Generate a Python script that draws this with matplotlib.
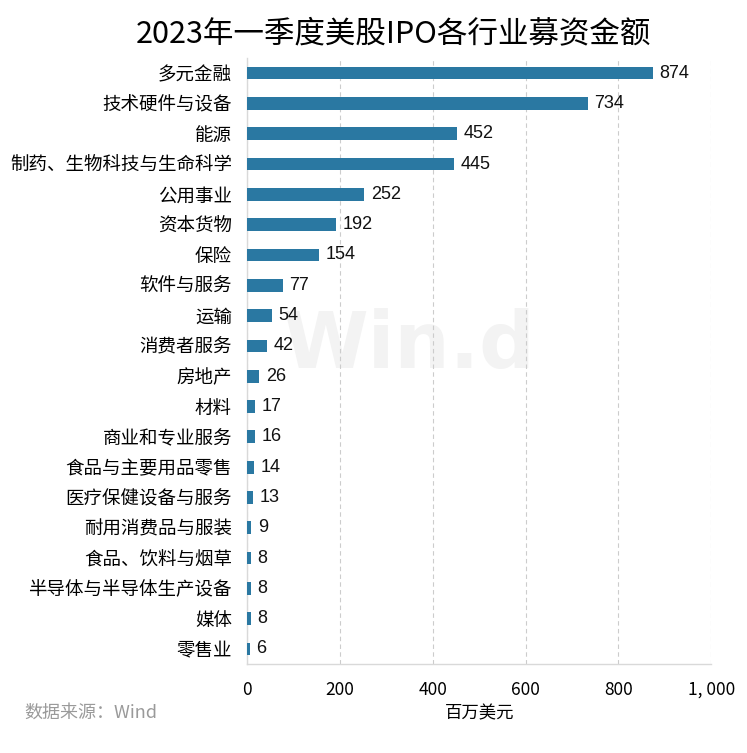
import matplotlib
matplotlib.use("Agg")
import matplotlib.pyplot as plt

plt.rcParams['font.family'] = ['Noto Sans CJK SC', 'DejaVu Sans']

# 数据
industries = ['多元金融', '技术硬件与设备', '能源', '制药、生物科技与生命科学', '公用事业',
              '资本货物', '保险', '软件与服务', '运输', '消费者服务', '房地产', '材料',
              '商业和专业服务', '食品与主要用品零售', '医疗保健设备与服务', '耐用消费品与服装',
              '食品、饮料与烟草', '半导体与半导体生产设备', '媒体', '零售业']
amounts = [874, 734, 452, 445, 252, 192, 154, 77, 54, 42, 26, 17, 16, 14, 13, 9, 8, 8, 8, 6]
xticks = [0, 200, 400, 600, 800, 1000]
xtick_labels = ['0', '200', '400', '600', '800', '1, 000']

bar_color = '#2a78a2'

fig = plt.figure(figsize=(7.47, 7.53), dpi=100)
ax = fig.add_axes([0.331, 0.118, 0.621, 0.805])

ypos = list(range(len(industries)))
ax.barh(ypos, amounts, height=0.42, color=bar_color, zorder=3)
for y, v in zip(ypos, amounts):
    ax.text(v + 14, y, str(v), va='center', ha='left', fontsize=13,
            family=['Liberation Sans', 'DejaVu Sans'], color='#111111', zorder=4)

ax.set_ylim(len(industries) - 0.5, -0.5)
ax.set_xlim(0, 1000)
ax.set_yticks(ypos)
ax.set_yticklabels(industries, fontsize=13.3)
ax.set_xticks(xticks)
ax.set_xticklabels(xtick_labels, fontsize=12.5)
ax.tick_params(axis='y', length=0, pad=11)
ax.tick_params(axis='x', length=0, pad=12)

ax.grid(axis='x', linestyle=(0, (4, 3)), color='#cccccc', linewidth=0.8, zorder=0)
for side in ['top', 'right']:
    ax.spines[side].set_visible(False)
for side in ['left', 'bottom']:
    ax.spines[side].set_color('#d9d9d9')
    ax.spines[side].set_linewidth(1.0)

ax.set_xlabel('百万美元', fontsize=12.5, labelpad=4)

# 水印
ax.text(0.548, 0.54, 'Win.d', transform=fig.transFigure, fontsize=56, fontweight='bold',
        color='#f3f3f3', ha='center', va='center', family=['DejaVu Sans'], zorder=1)

fig.text(0.527, 0.955, '2023年一季度美股IPO各行业募资金额', fontsize=22, ha='center', va='center')
fig.text(0.033, 0.054, '数据来源：Wind', fontsize=13, color='#9a9a9a', ha='left', va='center')

fig.savefig('out.png', dpi=100)
